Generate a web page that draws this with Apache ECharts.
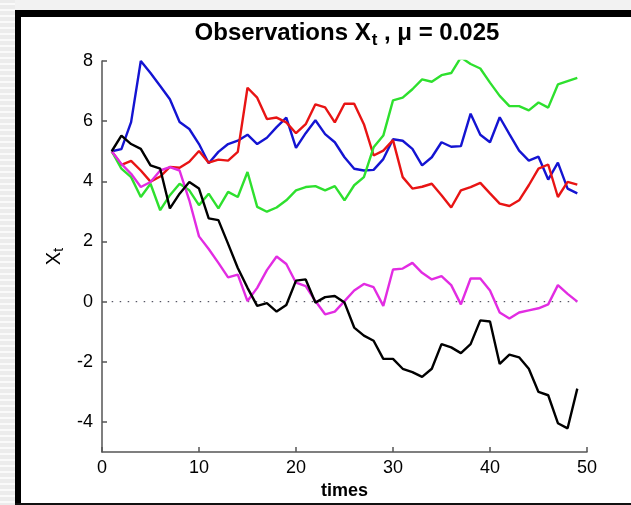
<!DOCTYPE html>
<html>
<head>
<meta charset="utf-8">
<script src="https://cdn.jsdelivr.net/npm/echarts@6/dist/echarts.min.js"></script>
<style>
html,body{margin:0;padding:0;background:#fff;}
#chart{width:631px;height:505px;}
</style>
</head>
<body>
<div id="chart"></div>
<script>
var times = [1,2,3,4,5,6,7,8,9,10,11,12,13,14,15,16,17,18,19,20,21,22,23,24,25,26,27,28,29,30,31,32,33,34,35,36,37,38,39,40,41,42,43,44,45,46,47,48,49];

var blueValues = [5.0,5.07,5.97,8.0,7.6,7.17,6.73,5.97,5.74,5.24,4.6,4.98,5.24,5.35,5.55,5.24,5.45,5.8,6.12,5.11,5.6,6.03,5.57,5.3,4.8,4.42,4.36,4.38,4.74,5.4,5.35,5.08,4.53,4.8,5.3,5.15,5.17,6.25,5.55,5.3,6.13,5.57,5.02,4.69,4.82,4.06,4.62,3.76,3.6];

var redValues = [5.0,4.55,4.68,4.36,3.99,4.16,4.48,4.45,4.65,5.01,4.62,4.72,4.69,4.98,7.11,6.78,6.07,6.12,5.96,5.6,5.9,6.56,6.46,5.96,6.58,6.58,5.9,4.86,5.02,5.37,4.14,3.76,3.82,3.92,3.54,3.13,3.7,3.81,3.95,3.6,3.26,3.18,3.37,3.87,4.42,4.56,3.48,3.98,3.89];

var greenValues = [5.0,4.42,4.14,3.48,3.92,3.04,3.54,3.92,3.7,3.21,3.59,3.1,3.65,3.48,4.31,3.15,2.99,3.13,3.37,3.7,3.81,3.84,3.7,3.84,3.37,3.87,4.14,5.13,5.52,6.69,6.78,7.06,7.39,7.31,7.53,7.6,8.12,7.9,7.75,7.28,6.84,6.5,6.5,6.36,6.62,6.45,7.22,7.33,7.44];

var blackValues = [5.0,5.52,5.24,5.08,4.53,4.42,3.1,3.59,3.98,3.76,2.77,2.71,1.92,1.12,0.46,-0.14,-0.05,-0.33,-0.11,0.7,0.74,-0.03,0.15,0.19,-0.03,-0.86,-1.13,-1.3,-1.9,-1.9,-2.23,-2.34,-2.5,-2.23,-1.41,-1.52,-1.71,-1.41,-0.62,-0.66,-2.07,-1.76,-1.85,-2.23,-3.0,-3.11,-4.04,-4.21,-2.89];

var magentaValues = [5.0,4.58,4.25,3.81,3.98,4.36,4.47,4.36,3.37,2.17,1.75,1.29,0.81,0.9,0.02,0.46,1.05,1.5,1.25,0.63,0.52,0.02,-0.42,-0.33,0.02,0.37,0.59,0.48,-0.14,1.07,1.1,1.29,0.96,0.74,0.85,0.55,-0.09,0.77,0.77,0.37,-0.36,-0.56,-0.36,-0.29,-0.22,-0.09,0.55,0.26,0.0];

var zeroLineX = [1, 49];
var zeroLineY = [0, 0];

var xTickLabels = [0,10,20,30,40,50];
var yTickLabels = [-4,-2,0,2,4,6,8];

function pairs(xs, ys){ return xs.map(function(x,i){ return [x, ys[i]]; }); }

var FONT = "'Liberation Sans', Arial, sans-serif";

var chart = echarts.init(document.getElementById('chart'), null, {renderer:'canvas'});

// decorative frame
var deco = [];
deco.push({type:'rect', shape:{x:0,y:0,width:631,height:505}, style:{fill:'#ffffff'}, z:-10, silent:true});
deco.push({type:'rect', shape:{x:0,y:0,width:631,height:10}, style:{fill:'#f2f2f2'}, z:-9, silent:true});
deco.push({type:'rect', shape:{x:0,y:0,width:15,height:505}, style:{fill:'#ececec'}, z:-9, silent:true});
for (var sy = 3; sy < 505; sy += 6) {
  deco.push({type:'rect', shape:{x:0,y:sy,width:15,height:2}, style:{fill:'#fafafa'}, z:-8, silent:true});
}
deco.push({type:'rect', shape:{x:15,y:10,width:616,height:7}, style:{fill:'#000'}, z:-7, silent:true});
deco.push({type:'rect', shape:{x:15,y:10,width:6,height:495}, style:{fill:'#000'}, z:-7, silent:true});
deco.push({type:'rect', shape:{x:15,y:503,width:616,height:2}, style:{fill:'#111'}, z:-7, silent:true});

function lineSeries(name, vals, color){
  return {
    name: name, type:'line', data: pairs(times, vals), showSymbol:false, symbol:'none',
    lineStyle:{color:color, width:2.4}, itemStyle:{color:color}, clip:true, animation:false, z:3
  };
}

chart.setOption({
  animation:false,
  backgroundColor:'transparent',
  graphic: deco,
  title:{
    left:342, top:16, textAlign:'center',
    text:'{a|Observations X}{s|t}{a| , μ = 0.025}',
    textStyle:{
      rich:{
        a:{fontFamily:FONT, fontWeight:'bold', fontSize:24, color:'#000', lineHeight:28, verticalAlign:'top'},
        s:{fontFamily:FONT, fontWeight:'bold', fontSize:17, color:'#000', lineHeight:8, verticalAlign:'bottom', padding:[0,0,0,1]}
      }
    }
  },
  grid:{left:102, right:44, top:61, bottom:48.5, containLabel:false},
  xAxis:{
    type:'value', min:0, max:50, interval:10,
    name:'times', nameLocation:'middle', nameGap:27,
    nameTextStyle:{fontFamily:FONT, fontWeight:'bold', fontSize:18, color:'#000'},
    axisLine:{show:true, onZero:false, lineStyle:{color:'#555', width:1.5}},
    axisTick:{show:true, inside:true, length:5, lineStyle:{color:'#555', width:1.5}},
    axisLabel:{fontFamily:FONT, fontSize:18, color:'#000', margin:7, customValues:xTickLabels},
    splitLine:{show:false}
  },
  yAxis:{
    type:'value', min:-5, max:8,
    name:'{a|X}{s|t}', nameLocation:'middle', nameGap:32, nameRotate:90,
    nameTextStyle:{
      rich:{
        a:{fontFamily:FONT, fontSize:20, color:'#000', lineHeight:22, verticalAlign:'top'},
        s:{fontFamily:FONT, fontSize:15, color:'#000', lineHeight:12, verticalAlign:'bottom'}
      }
    },
    axisLine:{show:true, onZero:false, lineStyle:{color:'#555', width:1.5}},
    axisTick:{show:true, inside:true, length:5, lineStyle:{color:'#555', width:1.5}, customValues:yTickLabels},
    axisLabel:{fontFamily:FONT, fontSize:18, color:'#000', margin:9, customValues:yTickLabels},
    splitLine:{show:false}
  },
  series:[
    {name:'zero', type:'line', data:pairs(zeroLineX, zeroLineY), showSymbol:false, symbol:'none',
     lineStyle:{color:'#334', width:1, type:[1.5,6.5]}, z:2, animation:false},
    lineSeries('blue', blueValues, '#1414d2'),
    lineSeries('red', redValues, '#e81414'),
    lineSeries('green', greenValues, '#2ee02e'),
    lineSeries('magenta', magentaValues, '#e22ce2'),
    lineSeries('black', blackValues, '#000000')
  ]
});
</script>
</body>
</html>
